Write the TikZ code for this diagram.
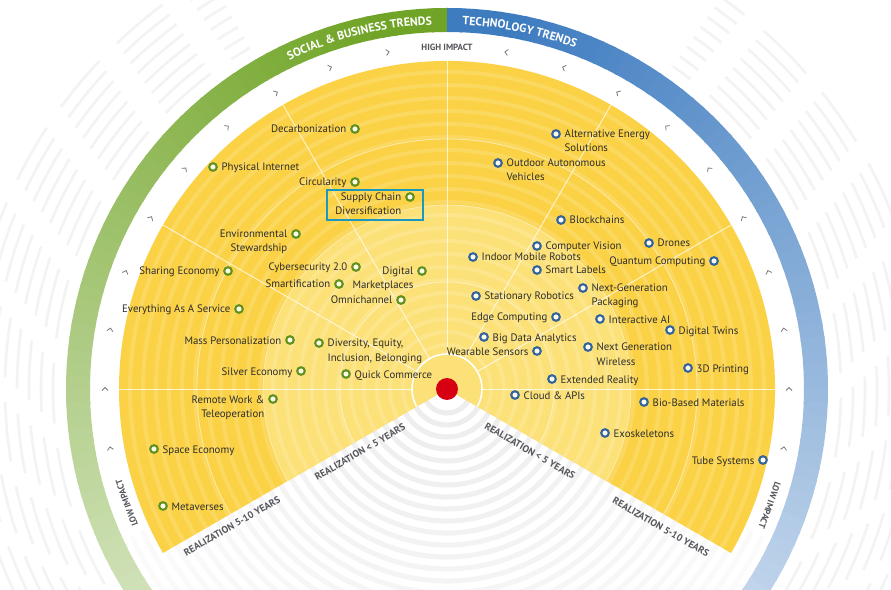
\documentclass[tikz,border=0pt]{standalone}
\usepackage{fontspec}
\setmainfont{PT Sans}
\setsansfont{PT Sans}
\usetikzlibrary{decorations.text,calc}
\definecolor{yelO}{RGB}{251,210,70}
\definecolor{yelI}{RGB}{252,225,120}
\definecolor{ringG}{RGB}{112,164,38}
\definecolor{ringB}{RGB}{62,124,192}
\definecolor{markG}{RGB}{98,145,30}
\definecolor{markB}{RGB}{52,100,155}
\definecolor{markFill}{RGB}{252,252,236}
\definecolor{txtC}{RGB}{45,45,45}
\definecolor{capC}{RGB}{85,85,92}
\definecolor{decoC}{RGB}{236,236,236}
\definecolor{deco2C}{RGB}{243,243,243}
\definecolor{redC}{RGB}{214,0,18}
\definecolor{boxC}{RGB}{28,152,190}
\definecolor{chevC}{RGB}{120,120,120}
\newcommand\ringfont{\fontsize{11.8}{13}\selectfont\bfseries}
\newcommand\TrendGL[5][-4pt]{\node[gmark] (#2) at (#3,#4) {};
  \node[trend, anchor=base east, align=right] (#2-t) at ([xshift=-8.5pt,yshift=#1]#2.center) {#5};}
\newcommand\TrendGR[5][-4pt]{\node[gmark] (#2) at (#3,#4) {};
  \node[trend, anchor=base west, align=left] (#2-t) at ([xshift=8.5pt,yshift=#1]#2.center) {#5};}
\newcommand\TrendBL[5][-4pt]{\node[bmark] (#2) at (#3,#4) {};
  \node[trend, anchor=base east, align=right] (#2-t) at ([xshift=-8.5pt,yshift=#1]#2.center) {#5};}
\newcommand\TrendBR[5][-4pt]{\node[bmark] (#2) at (#3,#4) {};
  \node[trend, anchor=base west, align=left] (#2-t) at ([xshift=8.5pt,yshift=#1]#2.center) {#5};}
\begin{document}
\begin{tikzpicture}[x=1pt,y=1pt,
  gmark/.style={circle, draw=markG, fill=markFill, line width=2.1pt, minimum size=7.6pt, inner sep=0pt},
  bmark/.style={circle, draw=markB, fill=markFill, line width=2.1pt, minimum size=7.6pt, inner sep=0pt},
  trend/.style={font=\fontsize{10.8}{14}\selectfont, text=txtC, inner sep=0pt},
  capl/.style={font=\fontsize{9}{11}\selectfont\bfseries, text=capC, inner sep=0pt},
  capr/.style={font=\fontsize{9.8}{11}\selectfont\bfseries, text=capC, inner sep=0pt},
  chev/.style={draw=chevC, line width=0.8pt},
  hilite/.style={draw=boxC, line width=2pt}]
\useasboundingbox (-447,-200) rectangle (444,389);
\clip (-447,-200) rectangle (444,389);
\fill[white] (-447,-200) rectangle (444,389);
% decorative outer stripes
\foreach \r in {394,406,...,482} {
  \pgfmathsetmacro\ph{mod(\r*7,85)}
  \draw[deco2C, line width=2.6pt, dash pattern=on 60pt off 25pt, dash phase=\ph pt]
    (120:\r) arc[start angle=120, end angle=215, radius=\r];
  \draw[deco2C, line width=2.6pt, dash pattern=on 60pt off 25pt, dash phase=\ph pt]
    (55:\r) arc[start angle=55, end angle=-35, radius=\r];
}
% bottom wedge arcs
\foreach \r in {24,36,...,372} {
  \pgfmathsetmacro\q{max(20,100-\r*0.22)}
  \draw[decoC!\q!white, line width=5pt] (205:\r) arc[start angle=205, end angle=335, radius=\r];
}
% outer ring
\foreach \a in {90,92,...,244} {
  \pgfmathsetmacro\p{max(12,min(100,100-(\a-100)*0.6))}
  \draw[ringG!\p!white, line width=24pt] (\a:369) arc[start angle=\a, end angle=\a+2.4, radius=369];
}
\foreach \a in {90,88,...,-64} {
  \pgfmathsetmacro\p{max(12,min(100,100-(80-\a)*0.6))}
  \draw[ringB!\p!white, line width=24pt] (\a:369) arc[start angle=\a, end angle=\a-2.4, radius=369];
}
\path[decorate, decoration={text along path, text align=center, text color=white,
  text={|\ringfont|SOCIAL {\&} BUSINESS TRENDS}}]
  (130:364.5) arc[start angle=130, end angle=78, radius=364.5];
\path[decorate, decoration={text along path, text align=center, text color=white,
  text={|\ringfont|TECHNOLOGY TRENDS}}]
  (104.5:364.5) arc[start angle=104.5, end angle=52.5, radius=364.5];
% yellow sector
\fill[yelO] (0,0) -- (-30:328) arc[start angle=-30, end angle=210, radius=328] -- cycle;
\fill[yelI] (0,0) -- (-30:184) arc[start angle=-30, end angle=210, radius=184] -- cycle;
\begin{scope}
  \clip (0,0) -- (-30:328) arc[start angle=-30, end angle=210, radius=328] -- cycle;
  \foreach \r in {44,57,...,322} {
    \draw[white, opacity=0.14, line width=4pt] (0,0) circle[radius=\r];
  }
  \foreach \r in {107,184,250} {
    \draw[white, opacity=0.5, line width=0.8pt] (0,0) circle[radius=\r];
  }
  \draw[white, line width=1.6pt] (0,0) circle[radius=35];
\end{scope}
\foreach \a in {0,30,...,180} {
  \draw[white, opacity=0.75, line width=0.9pt] (\a:35) -- (\a:328);
}
\node[circle, fill=redC, minimum size=22pt, inner sep=0pt] (core) at (0,0) {};
% chevrons
\foreach \a in {100,110,...,190} {
  \draw[chev, shift={(\a:342)}, rotate=\a-90] (-1.5,3) -- (1.5,0) -- (-1.5,-3);
}
\foreach \a in {80,70,...,-10} {
  \draw[chev, shift={(\a:342)}, rotate=\a+90] (-1.5,3) -- (1.5,0) -- (-1.5,-3);
}
% axis captions
\node[capl] (high) at (0,342) {HIGH IMPACT};
\node[capl, rotate=110] (lowL) at (199.6:340) {LOW IMPACT};
\node[capl, rotate=-110] (lowR) at (-19.8:343) {LOW IMPACT};
\node[capr, rotate=30] (realL5) at (-87,-63) {REALIZATION < 5 YEARS};
\node[capr, rotate=30] (realL10) at (-215,-137) {REALIZATION 5-10 YEARS};
\node[capr, rotate=-30] (realR5) at (83,-62) {REALIZATION < 5 YEARS};
\node[capr, rotate=-30] (realR10) at (214,-138) {REALIZATION 5-10 YEARS};
% social & business trends
\TrendGL{decarb}{-92}{260}{Decarbonization}
\TrendGR{physint}{-234}{222}{Physical Internet}
\TrendGL{circ}{-92}{207}{Circularity}
\TrendGL[-18pt]{supply}{-37}{192}{Supply Chain\\Diversification}
\TrendGL[-18pt]{envstew}{-151}{155}{Environmental\\Stewardship}
\TrendGL{sharing}{-219}{118}{Sharing Economy}
\TrendGL{cyber}{-91}{122}{Cybersecurity 2.0}
\TrendGL{smart}{-108}{105}{Smartification}
\TrendGL[-18pt]{digmkt}{-25}{118}{Digital\\Marketplaces}
\TrendGL{omni}{-46}{89}{Omnichannel}
\TrendGL{xaas}{-208}{80}{Everything As A Service}
\TrendGL{masspers}{-157}{49}{Mass Personalization}
\TrendGR[-18pt]{dei}{-128}{46}{Diversity, Equity,\\Inclusion, Belonging}
\TrendGL{silver}{-146}{18}{Silver Economy}
\TrendGR{quick}{-101}{15}{Quick Commerce}
\TrendGL[-18pt]{remote}{-174}{-10}{Remote Work \&\\Teleoperation}
\TrendGR{space}{-293}{-60}{Space Economy}
\TrendGR{meta}{-284}{-117}{Metaverses}
% technology trends
\TrendBR[-18pt]{altenergy}{109}{255}{Alternative Energy\\Solutions}
\TrendBR[-18pt]{outdoor}{51}{226}{Outdoor Autonomous\\Vehicles}
\TrendBR{block}{114}{169}{Blockchains}
\TrendBR{vision}{90}{143}{Computer Vision}
\TrendBR{drones}{202}{146}{Drones}
\TrendBR{indoor}{26}{132}{Indoor Mobile Robots}
\TrendBL{quantum}{267}{128}{Quantum Computing}
\TrendBR{labels}{90}{119}{Smart Labels}
\TrendBR[-18pt]{nextpack}{136}{101}{Next-Generation\\Packaging}
\TrendBR{stat}{29}{93}{Stationary Robotics}
\TrendBL{edge}{109}{72}{Edge Computing}
\TrendBR{interai}{153}{70}{Interactive AI}
\TrendBR{twins}{223}{59}{Digital Twins}
\TrendBR{bigdata}{37}{52}{Big Data Analytics}
\TrendBL{wear}{90}{38}{Wearable Sensors}
\TrendBR[-18pt]{nextwire}{141}{42}{Next Generation\\Wireless}
\TrendBR{print}{241}{21}{3D Printing}
\TrendBR{xr}{105}{10}{Extended Reality}
\TrendBR{cloud}{68}{-6}{Cloud \& APIs}
\TrendBR{biobased}{197}{-13}{Bio-Based Materials}
\TrendBR{exo}{158}{-44}{Exoskeletons}
\TrendBL{tube}{316}{-71}{Tube Systems}
% highlight box
\draw[hilite] (-120,199) rectangle (-24,169);
\end{tikzpicture}
\end{document}
